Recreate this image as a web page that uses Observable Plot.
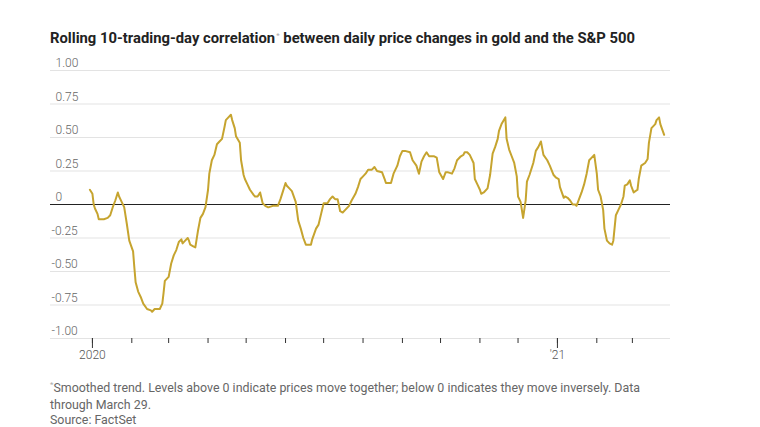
<!DOCTYPE html>
<html><head><meta charset="utf-8">
<script src="https://cdn.jsdelivr.net/npm/d3@7"></script>
<script src="https://cdn.jsdelivr.net/npm/@observablehq/plot@0.6"></script>
<style>
body{margin:0;background:#fff;font-family:Roboto, sans-serif;}
#wrap{width:760px;height:427px;position:relative;overflow:hidden;background:#fff}
#title{position:absolute;left:50px;top:29px;font-weight:700;font-size:14.8px;line-height:18px;color:#222;white-space:nowrap}
#chart{position:absolute;left:0;top:55px}
#foot{position:absolute;left:50px;top:380px;font-size:12.4px;line-height:15px;color:#666;white-space:nowrap}
.ast{font-size:8px;position:relative;top:-5px;color:#aaa;font-weight:400;margin-left:1px}
</style></head>
<body><div id="wrap">
<div id="title">Rolling 10-trading-day correlation<span class="ast">*</span> between daily price changes in gold and the S&amp;P 500</div>
<div id="chart"></div>
<div id="foot"><span class="ast" style="margin-left:0">*</span>Smoothed trend. Levels above 0 indicate prices move together; below 0 indicates they move inversely. Data<br>through March 29.<br>Source: FactSet</div>
</div>
<script>
const dates = ["2019-12-30","2020-01-01","2020-01-02","2020-01-03","2020-01-05","2020-01-06","2020-01-08","2020-01-10","2020-01-13","2020-01-15",
"2020-01-17","2020-01-19","2020-01-20","2020-01-21","2020-01-22","2020-01-24","2020-01-26","2020-01-28","2020-01-30","2020-02-02",
"2020-02-03","2020-02-04","2020-02-06","2020-02-08","2020-02-10","2020-02-13","2020-02-16","2020-02-17","2020-02-19","2020-02-21",
"2020-02-23","2020-02-25","2020-02-26","2020-02-27","2020-03-01","2020-03-03","2020-03-05","2020-03-07","2020-03-09","2020-03-11",
"2020-03-12","2020-03-14","2020-03-16","2020-03-17","2020-03-18","2020-03-20","2020-03-22","2020-03-24","2020-03-26","2020-03-28",
"2020-03-30","2020-04-01","2020-04-02","2020-04-04","2020-04-06","2020-04-08","2020-04-10","2020-04-12","2020-04-14","2020-04-15",
"2020-04-17","2020-04-19","2020-04-20","2020-04-22","2020-04-23","2020-04-26","2020-04-27","2020-04-29","2020-04-30","2020-05-02",
"2020-05-04","2020-05-07","2020-05-08","2020-05-10","2020-05-12","2020-05-14","2020-05-16","2020-05-18","2020-05-19","2020-05-22",
"2020-05-24","2020-05-26","2020-05-28","2020-05-30","2020-06-01","2020-06-02","2020-06-04","2020-06-06","2020-06-09","2020-06-11",
"2020-06-13","2020-06-15","2020-06-17","2020-06-19","2020-06-21","2020-06-22","2020-06-25","2020-06-27","2020-06-29","2020-07-01",
"2020-07-04","2020-07-06","2020-07-08","2020-07-10","2020-07-12","2020-07-14","2020-07-16","2020-07-18","2020-07-21","2020-07-23",
"2020-07-26","2020-07-28","2020-07-30","2020-08-01","2020-08-03","2020-08-05","2020-08-08","2020-08-10","2020-08-12","2020-08-16",
"2020-08-18","2020-08-19","2020-08-23","2020-08-25","2020-08-28","2020-08-30","2020-09-01","2020-09-03","2020-09-07","2020-09-09",
"2020-09-12","2020-09-14","2020-09-16","2020-09-18","2020-09-20","2020-09-22","2020-09-26","2020-09-28","2020-09-30","2020-10-03",
"2020-10-05","2020-10-07","2020-10-10","2020-10-12","2020-10-14","2020-10-17","2020-10-19","2020-10-20","2020-10-22","2020-10-24",
"2020-10-27","2020-10-28","2020-10-30","2020-11-01","2020-11-02","2020-11-04","2020-11-07","2020-11-09","2020-11-11","2020-11-13",
"2020-11-15","2020-11-16","2020-11-18","2020-11-21","2020-11-22","2020-11-24","2020-11-26","2020-11-28","2020-11-30","2020-12-01",
"2020-12-03","2020-12-05","2020-12-07","2020-12-08","2020-12-10","2020-12-13","2020-12-15","2020-12-17","2020-12-19","2020-12-21",
"2020-12-24","2020-12-26","2020-12-29","2020-12-31","2021-01-02","2021-01-03","2021-01-06","2021-01-07","2021-01-09","2021-01-11",
"2021-01-13","2021-01-15","2021-01-16","2021-01-18","2021-01-20","2021-01-22","2021-01-24","2021-01-26","2021-01-28","2021-01-30",
"2021-02-01","2021-02-02","2021-02-04","2021-02-06","2021-02-07","2021-02-09","2021-02-11","2021-02-13","2021-02-14","2021-02-16",
"2021-02-18","2021-02-20","2021-02-22","2021-02-23","2021-02-25","2021-02-27","2021-02-28","2021-03-02","2021-03-05","2021-03-06",
"2021-03-08","2021-03-11","2021-03-13","2021-03-14","2021-03-16","2021-03-19","2021-03-20","2021-03-22","2021-03-23","2021-03-26"];
const corr = [0.11,0.08,0.00,-0.03,-0.07,-0.11,-0.11,-0.11,-0.10,-0.08,
-0.02,0.03,0.06,0.09,0.06,0.02,-0.02,-0.14,-0.27,-0.35,
-0.47,-0.58,-0.65,-0.69,-0.74,-0.78,-0.79,-0.80,-0.78,-0.78,
-0.78,-0.74,-0.66,-0.57,-0.54,-0.44,-0.38,-0.34,-0.28,-0.26,
-0.29,-0.27,-0.25,-0.27,-0.30,-0.31,-0.32,-0.20,-0.10,-0.07,
-0.02,0.11,0.23,0.33,0.37,0.45,0.47,0.49,0.58,0.63,
0.65,0.67,0.63,0.57,0.51,0.46,0.33,0.22,0.19,0.15,
0.11,0.07,0.06,0.06,0.09,0.01,-0.01,-0.02,-0.02,-0.01,
-0.01,-0.01,0.04,0.10,0.16,0.14,0.12,0.10,0.02,-0.12,
-0.18,-0.25,-0.30,-0.30,-0.30,-0.26,-0.18,-0.15,-0.07,0.01,
0.01,0.04,0.06,0.04,0.04,-0.05,-0.06,-0.04,-0.01,0.03,
0.08,0.13,0.19,0.21,0.23,0.26,0.26,0.28,0.25,0.24,
0.19,0.16,0.16,0.23,0.29,0.36,0.40,0.40,0.39,0.33,
0.29,0.23,0.32,0.36,0.39,0.36,0.36,0.35,0.24,0.19,
0.24,0.24,0.23,0.27,0.33,0.36,0.37,0.39,0.39,0.37,
0.31,0.19,0.15,0.11,0.08,0.09,0.12,0.22,0.38,0.43,
0.49,0.55,0.60,0.65,0.49,0.41,0.36,0.31,0.21,0.06,
0.02,-0.10,0.03,0.17,0.22,0.31,0.40,0.43,0.47,0.37,
0.33,0.29,0.22,0.20,0.19,0.13,0.05,0.06,0.05,0.03,
0.00,0.00,-0.01,0.04,0.09,0.15,0.23,0.33,0.35,0.37,
0.23,0.11,0.06,-0.04,-0.18,-0.27,-0.29,-0.30,-0.27,-0.08,
-0.04,0.00,0.06,0.14,0.15,0.18,0.14,0.09,0.11,0.19,
0.29,0.31,0.34,0.46,0.57,0.60,0.63,0.65,0.60,0.52];
const yTicks = [1, 0.75, 0.5, 0.25, 0, -0.25, -0.5, -0.75, -1];
const yTickLabels = ["1.00","0.75","0.50","0.25","0","-0.25","-0.50","-0.75","-1.00"];
const xDomain = ["2019-11-29","2021-03-31"];
const monthRange = ["2020-01-01","2021-03-02"];
const yearTicks = ["2020-01-01","2021-01-01"];
const yearLabels = ["2020","'21"];

const data = dates.map((d,i)=>({date:new Date(d), value:corr[i]}));
const xd = xDomain.map(d=>new Date(d));
const monthTicks = d3.utcMonth.range(new Date(monthRange[0]), new Date(monthRange[1]));
const yearDates = yearTicks.map(d=>new Date(d));
const yt = yTicks.map((v,i)=>({v, label:yTickLabels[i]}));

const chart = Plot.plot({
  width:760, height:315, marginLeft:50, marginRight:90, marginTop:15, marginBottom:32,
  x:{type:"utc", domain:xd, axis:null},
  y:{domain:[-1,1], axis:null},
  style:{fontFamily:"Roboto, sans-serif", fontSize:"12px", background:"white", overflow:"visible"},
  marks:[
    Plot.ruleY(yTicks.filter(v=>v!==0), {stroke:"#e3e3e3", strokeWidth:1}),
    Plot.text(yt.filter(d=>d.v>=0), {x:()=>xd[0], y:"v", text:"label", textAnchor:"start", dx:5, dy:-7, fill:"#666", fontWeight:300}),
    Plot.text(yt.filter(d=>d.v<0), {x:()=>xd[0], y:"v", text:"label", textAnchor:"start", dx:1, dy:-7, fill:"#666", fontWeight:300}),
    Plot.ruleY([0], {stroke:"#222", strokeWidth:1.2}),
    Plot.axisX(monthTicks, {tickSize:5, tickFormat:()=>"", stroke:"#333"}),
    Plot.axisX(yearDates, {tickSize:10, tickPadding:2, tickFormat:(d,i)=>yearLabels[yearDates.findIndex(y=>+y===+d)], stroke:"#333", fill:"#555", fontSize:12, fontWeight:300}),
    Plot.line(data, {x:"date", y:"value", stroke:"#c6a42f", strokeWidth:2, strokeLinejoin:"round"})
  ]
});
document.getElementById("chart").appendChild(chart);
</script>
</body></html>
